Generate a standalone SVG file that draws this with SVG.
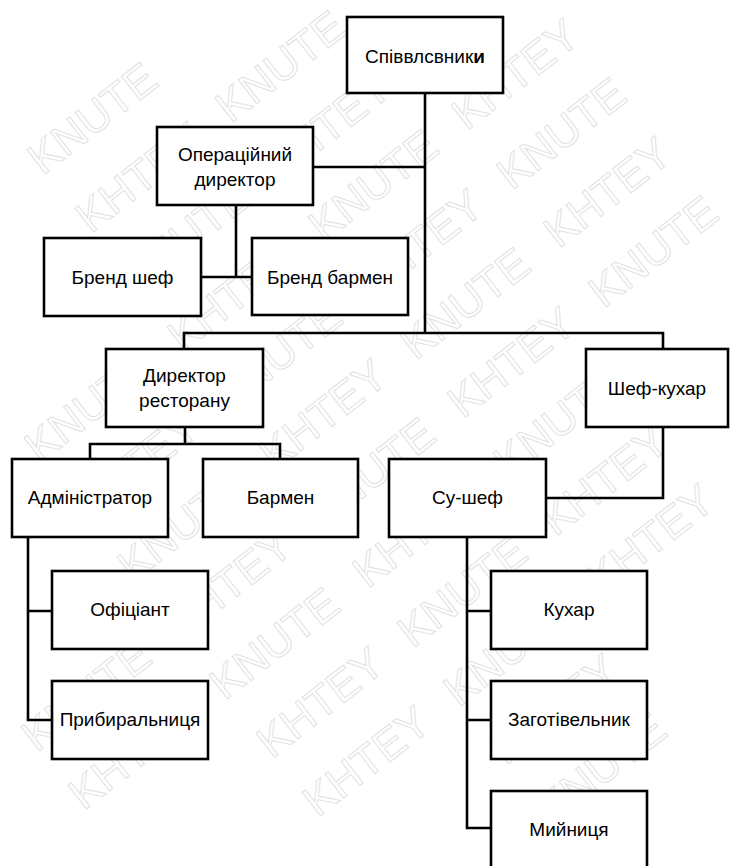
<svg xmlns="http://www.w3.org/2000/svg" width="730" height="866" viewBox="0 0 730 866">
<style>
.box{fill:#fff;stroke:#000;stroke-width:2.6}
.lbl{font-family:"Liberation Sans","Open Sans",sans-serif;font-size:19px;fill:#000;text-anchor:middle;dominant-baseline:central}
.wm{font-family:"Liberation Sans",sans-serif;font-size:44px;fill:none;stroke:#e2e2e2;stroke-width:1;text-anchor:middle;dominant-baseline:central}
.con{fill:none;stroke:#000;stroke-width:2.6}
</style>
<rect x="0" y="0" width="730" height="866" fill="#fff"/>
<g id="watermark">
<text class="wm" transform="translate(92 118) rotate(-38)">KNUTE</text>
<text class="wm" transform="translate(139 177) rotate(-38)">KHTEY</text>
<text class="wm" transform="translate(280 66) rotate(-38)">KNUTE</text>
<text class="wm" transform="translate(185 236) rotate(-38)">KNUTE</text>
<text class="wm" transform="translate(327 126) rotate(-38)">KHTEY</text>
<text class="wm" transform="translate(89 406) rotate(-38)">KNUTE</text>
<text class="wm" transform="translate(231 296) rotate(-38)">KHTEY</text>
<text class="wm" transform="translate(373 185) rotate(-38)">KNUTE</text>
<text class="wm" transform="translate(515 74) rotate(-38)">KHTEY</text>
<text class="wm" transform="translate(135 466) rotate(-38)">KHTEY</text>
<text class="wm" transform="translate(277 355) rotate(-38)">KNUTE</text>
<text class="wm" transform="translate(419 244) rotate(-38)">KHTEY</text>
<text class="wm" transform="translate(561 133) rotate(-38)">KNUTE</text>
<text class="wm" transform="translate(182 525) rotate(-38)">KNUTE</text>
<text class="wm" transform="translate(323 414) rotate(-38)">KHTEY</text>
<text class="wm" transform="translate(465 303) rotate(-38)">KNUTE</text>
<text class="wm" transform="translate(607 192) rotate(-38)">KHTEY</text>
<text class="wm" transform="translate(86 695) rotate(-38)">KNUTE</text>
<text class="wm" transform="translate(228 584) rotate(-38)">KHTEY</text>
<text class="wm" transform="translate(370 473) rotate(-38)">KNUTE</text>
<text class="wm" transform="translate(511 362) rotate(-38)">KHTEY</text>
<text class="wm" transform="translate(653 251) rotate(-38)">KNUTE</text>
<text class="wm" transform="translate(132 754) rotate(-38)">KHTEY</text>
<text class="wm" transform="translate(274 643) rotate(-38)">KNUTE</text>
<text class="wm" transform="translate(416 532) rotate(-38)">KHTEY</text>
<text class="wm" transform="translate(558 421) rotate(-38)">KNUTE</text>
<text class="wm" transform="translate(320 702) rotate(-38)">KHTEY</text>
<text class="wm" transform="translate(462 591) rotate(-38)">KNUTE</text>
<text class="wm" transform="translate(604 480) rotate(-38)">KHTEY</text>
<text class="wm" transform="translate(366 761) rotate(-38)">KHTEY</text>
<text class="wm" transform="translate(508 650) rotate(-38)">KNUTE</text>
<text class="wm" transform="translate(650 539) rotate(-38)">KHTEY</text>
<text class="wm" transform="translate(554 709) rotate(-38)">KHTEY</text>
<text class="wm" transform="translate(601 768) rotate(-38)">KNUTE</text>
</g>
<g id="connectors">
<path class="con" d="M425 93V333M313 167H425M184 349V333H663V349"/>
<path class="con" d="M236 205V277M201 277H252"/>
<path class="con" d="M185 427V444M90 459V444H280V459"/>
<path class="con" d="M663 427V498H546"/>
<path class="con" d="M28 537V720H52M28 611H52"/>
<path class="con" d="M467 537V828H491M467 611H491M467 720H491"/>
</g>
<g id="n-spivvlasnyky"><rect class="box" x="347" y="17" width="156" height="76"/><text class="lbl" x="425" y="56">Співвлсвник<tspan font-weight="bold">и</tspan></text></g>
<g id="n-operdir"><rect class="box" x="157" y="127" width="156" height="78"/><text class="lbl" x="235" y="154">Операційний</text><text class="lbl" x="235" y="179">директор</text></g>
<g id="n-brendshef"><rect class="box" x="44" y="238" width="157" height="78"/><text class="lbl" x="122.5" y="277">Бренд шеф</text></g>
<g id="n-brendbarmen"><rect class="box" x="252" y="238" width="156" height="77"/><text class="lbl" x="330" y="277">Бренд бармен</text></g>
<g id="n-dirrest"><rect class="box" x="106" y="349" width="157" height="78"/><text class="lbl" x="184.5" y="375">Директор</text><text class="lbl" x="184.5" y="400">ресторану</text></g>
<g id="n-shefkuhar"><rect class="box" x="586" y="349" width="142" height="78"/><text class="lbl" x="657" y="388">Шеф-кухар</text></g>
<g id="n-admin"><rect class="box" x="12" y="459" width="156" height="78"/><text class="lbl" x="90" y="497">Адміністратор</text></g>
<g id="n-barmen"><rect class="box" x="203" y="459" width="155" height="78"/><text class="lbl" x="280.5" y="497">Бармен</text></g>
<g id="n-sushef"><rect class="box" x="389" y="459" width="157" height="78"/><text class="lbl" x="467.5" y="497">Су-шеф</text></g>
<g id="n-ofitsiant"><rect class="box" x="52" y="571" width="156" height="78"/><text class="lbl" x="130" y="609">Офіціант</text></g>
<g id="n-prybyr"><rect class="box" x="52" y="681" width="156" height="78"/><text class="lbl" x="130" y="719">Прибиральниця</text></g>
<g id="n-kuhar"><rect class="box" x="491" y="571" width="156" height="78"/><text class="lbl" x="569" y="609">Кухар</text></g>
<g id="n-zagot"><rect class="box" x="491" y="681" width="156" height="78"/><text class="lbl" x="569" y="719">Заготівельник</text></g>
<g id="n-myinytsia"><rect class="box" x="491" y="791" width="156" height="80"/><text class="lbl" x="569" y="829">Мийниця</text></g>
</svg>
